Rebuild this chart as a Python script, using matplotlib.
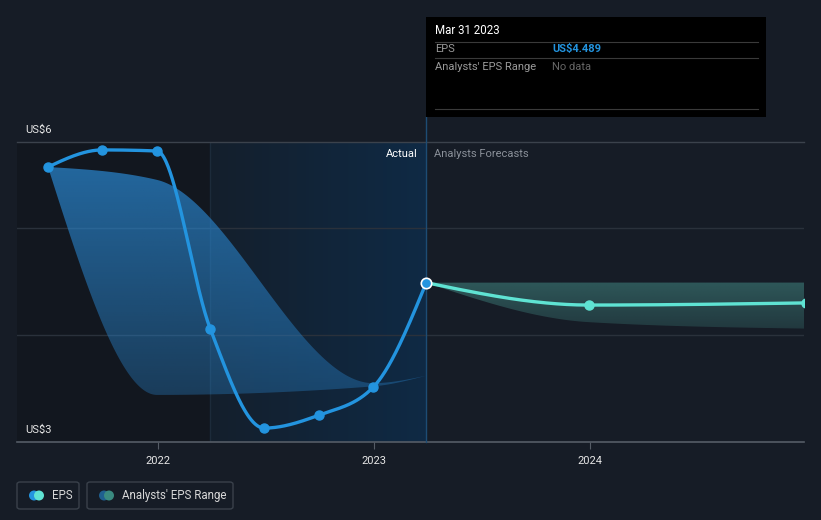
import numpy as np
import pandas as pd
import matplotlib
matplotlib.use("Agg")
import matplotlib.pyplot as plt
import matplotlib.dates as mdates
from matplotlib.patches import Rectangle, FancyBboxPatch, Ellipse, Polygon
from matplotlib.lines import Line2D
from matplotlib.colors import LinearSegmentedColormap

plt.rcParams['font.family'] = ['Roboto', 'DejaVu Sans']

# ---------------- data ----------------
eps_dates = ["2021-06-30", "2021-09-30", "2021-12-31", "2022-03-31",
             "2022-06-30", "2022-09-30", "2022-12-31", "2023-03-31"]
eps_values = [5.57, 5.73, 5.72, 4.06, 3.13, 3.25, 3.51, 4.489]

fc_dates = ["2023-03-31", "2023-12-31", "2024-12-31"]
fc_values = [4.489, 4.28, 4.30]
fc_low = [4.489, 4.12, 4.06]
fc_high = [4.489, 4.49, 4.49]

band_dates = ["2021-06-30", "2021-12-31", "2022-12-31", "2023-03-31"]
band_low = [5.57, 3.44, 3.52, 3.62]
band_high = [5.57, 5.45, 3.55, 3.62]

x_ticks = ["2022-01-01", "2023-01-01", "2024-01-01"]
x_tick_labels = ["2022", "2023", "2024"]
y_min, y_max = 3.0, 5.804
grid_values = [4, 5]
y_labels = ["US$6", "US$3"]

tooltip_date = "Mar 31 2023"
tooltip_eps = "US$4.489"

# ---------------- helpers ----------------
def dnum(ds):
    return mdates.date2num(pd.to_datetime(ds).to_pydatetime())

def monotone(xs, ys, n=80):
    xs = np.asarray(xs, float); ys = np.asarray(ys, float)
    N = len(xs)
    h = np.diff(xs); s = np.diff(ys) / h
    t = np.zeros(N)
    if N == 2:
        t[:] = s[0]
    else:
        for i in range(1, N - 1):
            p = (s[i-1] * h[i] + s[i] * h[i-1]) / (h[i-1] + h[i])
            t[i] = (np.sign(s[i-1]) + np.sign(s[i])) * min(abs(s[i-1]), abs(s[i]), 0.5 * abs(p))
        t[0] = (3 * s[0] - t[1]) / 2
        t[-1] = (3 * s[-1] - t[-2]) / 2
    ox, oy = [], []
    for i in range(N - 1):
        u = np.linspace(0, 1, n, endpoint=(i == N - 2))
        h00 = 2*u**3 - 3*u**2 + 1; h10 = u**3 - 2*u**2 + u
        h01 = -2*u**3 + 3*u**2; h11 = u**3 - u**2
        ox.append(xs[i] + u * h[i])
        oy.append(h00*ys[i] + h10*h[i]*t[i] + h01*ys[i+1] + h11*h[i]*t[i+1])
    return np.concatenate(ox), np.concatenate(oy)

# ---------------- figure ----------------
W, H = 821, 520
BG = '#161c26'
fig = plt.figure(figsize=(W/100, H/100), dpi=100, facecolor=BG)

def fx(px): return px / W
def fy(py): return 1 - py / H

ax = fig.add_axes([fx(17), fy(442), 787/W, 300/H])
ax.set_facecolor('none')
for sp in ax.spines.values():
    sp.set_visible(False)

x_left = dnum("2022-01-01") - 237.4
x_right = x_left + 1329.6
ax.set_xlim(x_left, x_right)
ax.set_ylim(y_min, y_max)

ed = dnum(eps_dates)
fd = dnum(fc_dates)
bd = dnum(band_dates)

# background regions
ax.axvspan(x_left, ed[3], color='#12171f', zorder=0, lw=0)
grad = np.linspace(0, 1, 256)[None, :]
cm_act = LinearSegmentedColormap.from_list('act', ['#141f2c', '#0f2a45'])
ax.imshow(grad, extent=[ed[3], ed[7], y_min, y_max], aspect='auto', cmap=cm_act,
          zorder=0.5, origin='lower')
ax.axvline(ed[3], color='#1c2b3a', lw=1, zorder=0.6)

# gridlines
for g in grid_values:
    ax.axhline(g, color='#2a313b', lw=1, zorder=1)
ax.axhline(y_max, color='#3b424c', lw=1, zorder=1, clip_on=False)
ax.axhline(y_min, color='#555c66', lw=1.2, zorder=1, clip_on=False)

def gradient_band(x, lo, hi, rgb, a_top, a_bot, z):
    ymin_b, ymax_b = min(lo.min(), hi.min()), max(lo.max(), hi.max())
    arr = np.zeros((256, 2, 4))
    arr[..., :3] = matplotlib.colors.to_rgb(rgb)
    alphas = np.linspace(a_bot, a_top, 256)
    arr[..., 3] = alphas[:, None]
    im = ax.imshow(arr, extent=[x.min(), x.max(), ymin_b, ymax_b], aspect='auto',
                   origin='lower', zorder=z, interpolation='bilinear')
    verts = np.vstack([np.column_stack([x, hi]), np.column_stack([x[::-1], lo[::-1]])])
    poly = Polygon(verts, closed=True, facecolor='none', edgecolor='none',
                   transform=ax.transData)
    ax.add_patch(poly)
    im.set_clip_path(poly)

# historical analyst band
bx, bhi = monotone(bd, band_high)
_, blo = monotone(bd, band_low)
gradient_band(bx, blo, bhi, '#2a86cf', 0.72, 0.34, 2)

# forecast band
fxs, fhi = monotone(fd, fc_high)
_, flo = monotone(fd, fc_low)
gradient_band(fxs, flo, fhi, '#50aaa0', 0.42, 0.20, 2)

# hover line
ax.axvline(ed[7], ymin=0, ymax=(442 - 117) / 300, color='#1d4c74', lw=1,
           zorder=2.5, clip_on=False)

# EPS line
ex, ey = monotone(ed, eps_values)
ax.plot(ex, ey, color='#2394df', lw=2.4, zorder=4, solid_capstyle='round')
ax.plot(ed[:-1], eps_values[:-1], 'o', color='#2394df', ms=6.5, zorder=5)

# forecast line
fx2, fy2 = monotone(fd, fc_values)
ax.plot(fx2, fy2, color='#5fe3d3', lw=2.4, zorder=4)
ax.plot(fd[1:], fc_values[1:], 'o', color='#5fe3d3', ms=6.5, zorder=5)
ax.plot([ed[7]], [eps_values[7]], 'o', color='#2394df', mec='white', mew=1.2,
        ms=7.5, zorder=6, clip_on=False)

# ticks
xt = dnum(x_ticks)
ax.set_xticks(xt)
ax.set_xticklabels(x_tick_labels, color='#e6e6e6', fontsize=8)
ax.tick_params(axis='x', length=5, color='#555c66', pad=5)
ax.set_yticks([])

# labels
fig.text(fx(25), fy(130), y_labels[0], color='#e6e6e6', fontsize=8, va='center', ha='left')
fig.text(fx(25), fy(430), y_labels[1], color='#e6e6e6', fontsize=8, va='center', ha='left')
fig.text(fx(418), fy(154), 'Actual', color='#ffffff', fontsize=8, va='center', ha='right')
fig.text(fx(434), fy(154), 'Analysts Forecasts', color='#8a9099', fontsize=8, va='center', ha='left')

# tooltip
fig.patches.append(Rectangle((fx(426), fy(117)), 340/W, 100/H, transform=fig.transFigure,
                             facecolor='#000000', edgecolor='none', zorder=10))
for ly in (42, 58, 109):
    fig.lines.append(Line2D([fx(435), fx(758)], [fy(ly), fy(ly)], transform=fig.transFigure,
                            color='#3a3a3a', lw=0.8, zorder=11))
fig.text(fx(435), fy(31), tooltip_date, color='#ffffff', fontsize=8.3, va='center', ha='left', zorder=12)
fig.text(fx(435), fy(49), 'EPS', color='#9a9a9a', fontsize=8, va='center', ha='left', zorder=12)
fig.text(fx(552), fy(49), tooltip_eps, color='#2394df', fontsize=8, va='center', ha='left',
         fontweight='bold', zorder=12)
fig.text(fx(435), fy(67), "Analysts' EPS Range", color='#9a9a9a', fontsize=8, va='center', ha='left', zorder=12)
fig.text(fx(552), fy(67), 'No data', color='#666666', fontsize=8, va='center', ha='left', zorder=12)

# legend
def legend_box(x0, x1, c1, c2, label):
    fig.patches.append(FancyBboxPatch((fx(x0), fy(509)), (x1 - x0)/W, 27/H,
                       boxstyle='round,pad=0,rounding_size=0.004', transform=fig.transFigure,
                       facecolor='none', edgecolor='#3a414b', lw=1, zorder=10))
    for cx, c in ((x0 + 17, c1), (x0 + 22, c2)):
        fig.patches.append(Ellipse((fx(cx), fy(495.5)), 10/W, 10/H, transform=fig.transFigure,
                                   facecolor=c, edgecolor='none', zorder=11))
    fig.text(fx(x0 + 35), fy(495.5), label, color='#d8d8d8', fontsize=8.3, va='center', ha='left')

legend_box(17, 79, '#2394df', '#5fe3d3', 'EPS')
legend_box(87, 233, '#1f5f8f', '#3a8a80', "Analysts' EPS Range")

fig.savefig('out.png', dpi=100, facecolor=BG)
